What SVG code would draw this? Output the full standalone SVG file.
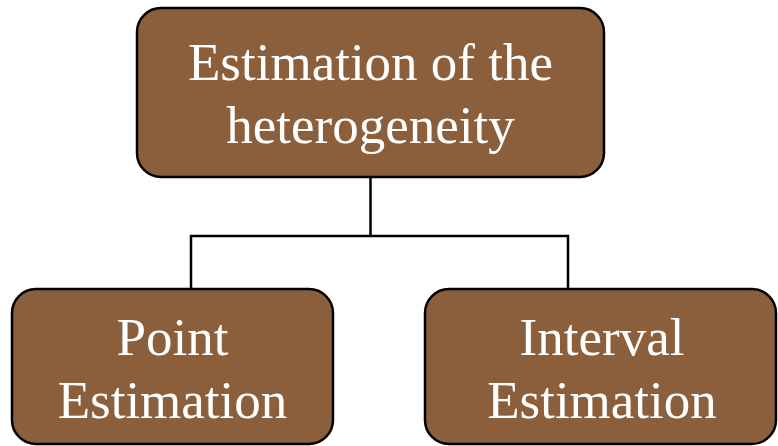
<svg xmlns="http://www.w3.org/2000/svg" width="778" height="446" viewBox="0 0 778 446">
<style>
.box{fill:#8B5E3C;stroke:#000;stroke-width:2.5}
.lbl{font-family:"Liberation Serif","Times New Roman",serif;font-size:53px;fill:#fff;text-anchor:middle}
.con{fill:none;stroke:#000;stroke-width:2.5}
</style>
<rect width="778" height="446" fill="#fff"/>
<g id="connectors">
<path class="con" d="M370.5 177 V236 M191 290 V236 H568 V290"/>
</g>
<g id="root">
<rect class="box" x="137" y="8" width="467" height="169" rx="24"/>
<text class="lbl" x="370.5" y="80">Estimation of the</text>
<text class="lbl" x="370.5" y="143">heterogeneity</text>
</g>
<g id="point">
<rect class="box" x="12" y="289" width="321" height="155" rx="24"/>
<text class="lbl" x="172.5" y="355">Point</text>
<text class="lbl" x="172.5" y="418">Estimation</text>
</g>
<g id="interval">
<rect class="box" x="425" y="289" width="351" height="155" rx="24"/>
<text class="lbl" x="602" y="355">Interval</text>
<text class="lbl" x="602" y="418">Estimation</text>
</g>
</svg>
